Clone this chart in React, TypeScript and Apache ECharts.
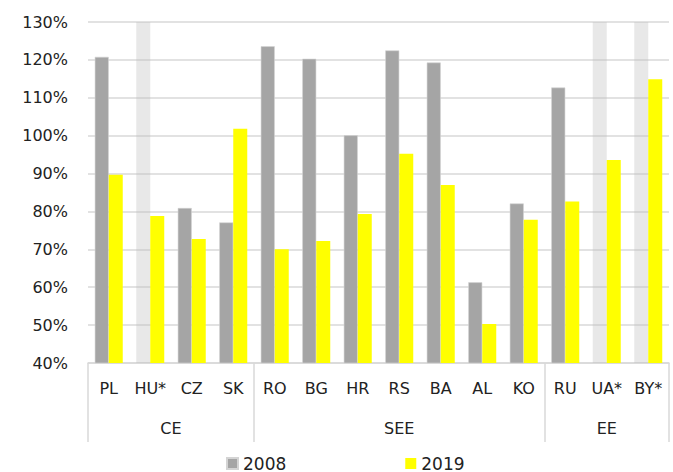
import React, { useEffect, useRef } from "react";
import * as echarts from "echarts";

const categories = ["PL", "HU*", "CZ", "SK", "RO", "BG", "HR", "RS", "BA", "AL", "KO", "RU", "UA*", "BY*"];
const values2008: (number | null)[] = [120.8, null, 80.9, 77.1, 123.6, 120.3, 100.1, 122.5, 119.3, 61.3, 82.1, 112.7, null, null];
const values2019 = [89.7, 78.8, 72.7, 101.8, 70.0, 72.2, 79.3, 95.2, 87.0, 50.3, 77.8, 82.6, 93.6, 114.9];
const noDataCategories = ["HU*", "UA*", "BY*"];
const groups = [
  { name: "CE", start: 0, end: 4 },
  { name: "SEE", start: 4, end: 11 },
  { name: "EE", start: 11, end: 14 },
];
const yTicks = { min: 40, max: 130, interval: 10 };

const FONT = "DejaVu Sans";
const GREY = "#a5a5a5";
const YELLOW = "#ffff00";
const LINE = "#d9d9d9";

export default function App() {
  const ref = useRef<HTMLDivElement>(null);
  useEffect(() => {
    if (!ref.current) return;
    const chart = echarts.init(ref.current, null, { renderer: "svg" });
    const data2008 = categories.map((c, i) =>
      noDataCategories.includes(c)
        ? { value: yTicks.max, itemStyle: { color: "rgba(190,190,190,0.35)", borderWidth: 0 } }
        : { value: values2008[i] }
    );
    const boundaries = [0, ...groups.map((g) => g.end)];
    const centers = groups.map((g) => (g.start + g.end) / 2);
    chart.setOption({
      animation: false,
      textStyle: { fontFamily: FONT },
      grid: { left: 88, right: 4, top: 22, bottom: 109, containLabel: false, outerBoundsMode: "none" },
      legend: {
        data: ["2008", "2019"],
        left: 226,
        top: 451,
        padding: [4, 0, 0, 0],
        icon: "rect",
        itemWidth: 11,
        itemHeight: 11,
        itemGap: 119,
        textStyle: { fontFamily: FONT, fontSize: 17, color: "#222", lineHeight: 17 },
      },
      xAxis: [
        {
          type: "category",
          data: categories,
          position: "bottom",
          axisLine: { show: true, lineStyle: { color: LINE, width: 1.5 } },
          axisTick: { show: false },
          axisLabel: { color: "#222", fontSize: 16, fontFamily: FONT, margin: 17, interval: 0 },
        },
        {
          type: "value",
          min: 0,
          max: categories.length,
          position: "bottom",
          axisLine: { show: false },
          splitLine: { show: false },
          axisTick: {
            show: true,
            customValues: boundaries,
            length: 79,
            lineStyle: { color: LINE, width: 1.5 },
          },
          axisLabel: {
            show: true,
            customValues: centers,
            margin: 57,
            color: "#222",
            fontSize: 16,
            fontFamily: FONT,
            formatter: (v: number) => {
              const g = groups.find((gg) => (gg.start + gg.end) / 2 === v);
              return g ? g.name : "";
            },
          },
        },
      ],
      yAxis: {
        type: "value",
        min: yTicks.min,
        max: yTicks.max,
        interval: yTicks.interval,
        axisLine: { show: false },
        axisTick: { show: false },
        splitLine: { lineStyle: { color: LINE, width: 1.5 } },
        axisLabel: { formatter: "{value}%", color: "#222", fontSize: 16, fontFamily: FONT, margin: 20 },
      },
      series: [
        {
          name: "2008",
          type: "bar",
          xAxisIndex: 0,
          data: data2008,
          barWidth: 14,
          barGap: "0%",
          itemStyle: { color: GREY, borderColor: "#d4d4d4", borderWidth: 0.6 },
        },
        {
          name: "2019",
          type: "bar",
          xAxisIndex: 0,
          data: values2019,
          barWidth: 14,
          barGap: "0%",
          itemStyle: { color: YELLOW },
        },
      ],
    });
    return () => chart.dispose();
  }, []);
  return <div ref={ref} style={{ position: "absolute", left: 0, top: 0, width: 673, height: 472 }} />;
}
